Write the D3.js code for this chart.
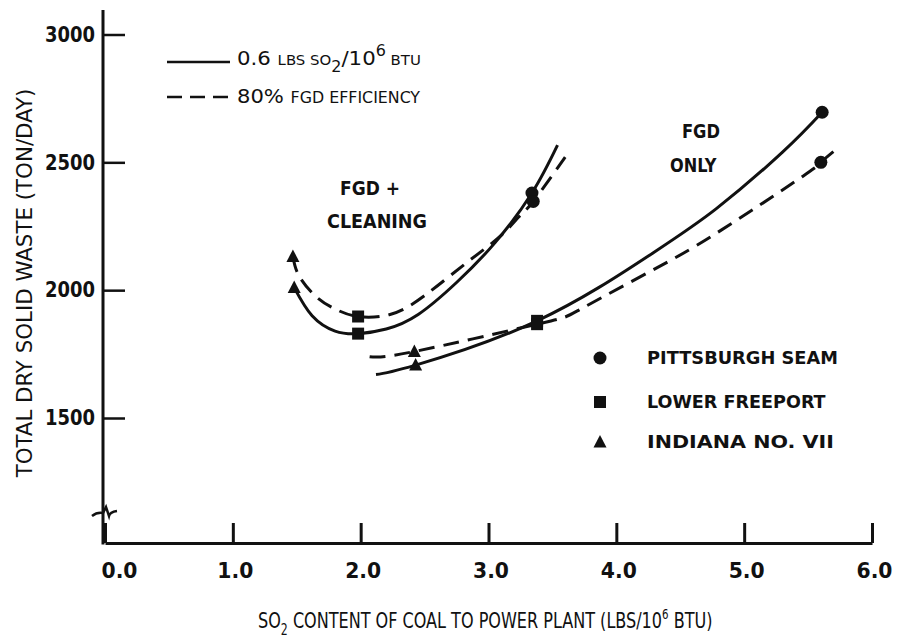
<!DOCTYPE html>
<html>
<head>
<meta charset="utf-8">
<script src="https://cdn.jsdelivr.net/npm/d3@7"></script>
<style>
  html, body { margin: 0; padding: 0; background: #fff; }
  svg { display: block; }
  text { font-family: "DejaVu Sans Condensed", "Liberation Sans Narrow", "DejaVu Sans", sans-serif; fill: #111; }
</style>
</head>
<body>
<svg id="chart" width="897" height="643"></svg>
<script>
// ---- data ----
const xTicks = [0, 1, 2, 3, 4, 5, 6];
const yTicks = [1500, 2000, 2500, 3000];

// FGD + coal cleaning curves  [SO2 lbs/10^6 BTU, ton/day]
const cleanSolid  = [[1.48, 2010], [1.62, 1900], [1.80, 1840], [1.98, 1830], [2.20, 1848], [2.45, 1905],
                     [2.75, 2030], [3.05, 2185], [3.34, 2380], [3.54, 2567]];
const cleanDashed = [[1.47, 2132], [1.52, 2054], [1.66, 1971], [1.81, 1924], [1.98, 1897], [2.23, 1905],
                     [2.49, 1975], [2.83, 2108], [3.09, 2210], [3.24, 2288], [3.35, 2347], [3.60, 2520]];
// FGD only curves
const onlySolid  = [[2.12, 1670], [2.43, 1707], [3.38, 1880], [4.26, 2137], [4.78, 2318], [5.30, 2540], [5.61, 2696]];
const onlyDashed = [[2.07, 1740], [2.42, 1760], [3.38, 1867], [3.71, 1923], [4.26, 2072], [4.78, 2222],
                    [5.46, 2446], [5.60, 2500], [5.72, 2551]];

// coal data points
const coalNames = ["PITTSBURGH SEAM", "LOWER FREEPORT", "INDIANA NO. VII"];
const pittsburghPts = [[3.34, 2380], [3.35, 2347], [5.61, 2696], [5.60, 2500]];
const freeportPts   = [[1.98, 1830], [1.98, 1897], [3.38, 1880], [3.38, 1867]];
const indianaPts    = [[1.48, 2010], [1.47, 2132], [2.43, 1707], [2.42, 1760]];

// ---- layout ----
const svg = d3.select("#chart");
const x = d3.scaleLinear().domain([0, 6]).range([105, 872]);
const y = d3.scaleLinear().domain([1500, 3000]).range([418, 34.5]);
const baseY = 543;
const axisX = 103;
const ink = "#111";

// squeeze a text element horizontally to a target width, keeping its anchor point
function fitWidth(t, width, ox, oy, rot) {
  const w = t.node().getBBox().width;
  const sx = width / w;
  t.attr("x", 0).attr("y", 0)
   .attr("transform", `translate(${ox},${oy})${rot ? ` rotate(${rot})` : ""} scale(${sx},1)`);
  return t;
}

// ---- x axis ----
const gx = svg.append("g").attr("transform", `translate(0,${baseY})`)
  .call(d3.axisBottom(x).tickValues(xTicks).tickFormat(d3.format(".1f"))
        .tickSizeInner(-20).tickSizeOuter(0).tickPadding(19));
gx.select(".domain").attr("stroke", ink).attr("stroke-width", 3);
gx.selectAll(".tick line").attr("stroke", ink).attr("stroke-width", 3);
gx.selectAll(".tick text").attr("font-size", 22).attr("font-family", null).attr("fill", ink)
  .attr("font-weight", "bold")
  .each(function (d, i) {
    const t = d3.select(this);
    const w = this.getBBox().width;
    const sx = 36 / w;
    const dx = i === 0 ? 14 : 2;
    t.attr("x", 0).attr("transform", `translate(${dx},0) scale(${sx},1)`);
  });

// ---- y axis ----
const gy = svg.append("g").attr("transform", `translate(${axisX},0)`)
  .call(d3.axisLeft(y).tickValues(yTicks).tickFormat(d3.format("d"))
        .tickSizeInner(-22).tickSizeOuter(0).tickPadding(8));
gy.select(".domain").remove();
gy.selectAll(".tick line").attr("stroke", ink).attr("stroke-width", 2.5);
gy.selectAll(".tick text").attr("font-size", 21).attr("font-family", null).attr("fill", ink)
  .attr("font-weight", "bold")
  .each(function () {
    const t = d3.select(this);
    const w = this.getBBox().width;
    const tx = +t.attr("x");
    t.attr("x", 0).attr("transform", `translate(${tx},0) scale(${50 / w},1)`);
  });

// axis line with a scale break near the bottom
svg.append("path")
  .attr("d", `M${axisX},10 V508 M${axisX},518 V${baseY + 1.5}`)
  .attr("stroke", ink).attr("stroke-width", 3).attr("fill", "none");
svg.append("path")
  .attr("d", `M92,516 Q97,512 ${axisX},513 L${axisX + 3},507 L${axisX + 6},516 Q110,512 117,511`)
  .attr("stroke", ink).attr("stroke-width", 2.5).attr("fill", "none");
svg.append("path")
  .attr("d", `M${axisX},508 L${axisX},518`)
  .attr("stroke", ink).attr("stroke-width", 3);

// ---- axis titles ----
const xt = svg.append("text").attr("font-size", 22);
xt.append("tspan").text("SO");
xt.append("tspan").attr("font-size", 15).attr("dy", 7).text("2");
xt.append("tspan").attr("dy", -7).text(" CONTENT OF COAL TO POWER PLANT (LBS/10");
xt.append("tspan").attr("font-size", 14).attr("dy", -9).text("6");
xt.append("tspan").attr("dy", 9).text(" BTU)");
fitWidth(xt, 455, 258, 628);

const yt = svg.append("text").attr("font-size", 20.5).attr("text-anchor", "middle")
  .text("TOTAL DRY SOLID WASTE (TON/DAY)");
fitWidth(yt, 390, 32, 283, -90);

// ---- curves ----
const line = d3.line().x(d => x(d[0])).y(d => y(d[1])).curve(d3.curveNatural);
const curves = [
  { pts: cleanSolid, dash: null },
  { pts: cleanDashed, dash: "16,9" },
  { pts: onlySolid, dash: null },
  { pts: onlyDashed, dash: "16,9" }
];
svg.append("g").selectAll("path").data(curves).join("path")
  .attr("d", d => line(d.pts))
  .attr("fill", "none").attr("stroke", ink).attr("stroke-width", 3)
  .attr("stroke-dasharray", d => d.dash);

// ---- markers ----
const triPath = "M0,-7 L6.5,5.5 L-6.5,5.5 Z";
const mk = svg.append("g").attr("fill", ink);
mk.selectAll("circle").data(pittsburghPts).join("circle")
  .attr("cx", d => x(d[0])).attr("cy", d => y(d[1])).attr("r", 6.5);
mk.selectAll("rect").data(freeportPts).join("rect")
  .attr("x", d => x(d[0]) - 6).attr("y", d => y(d[1]) - 6).attr("width", 12).attr("height", 12);
mk.selectAll("path").data(indianaPts).join("path")
  .attr("d", triPath).attr("transform", d => `translate(${x(d[0])},${y(d[1])})`);

// ---- line-style legend ----
svg.append("line").attr("x1", 167).attr("x2", 230).attr("y1", 62).attr("y2", 62)
  .attr("stroke", ink).attr("stroke-width", 2.5);
svg.append("line").attr("x1", 167).attr("x2", 233).attr("y1", 97).attr("y2", 97)
  .attr("stroke", ink).attr("stroke-width", 2.5).attr("stroke-dasharray", "15,8");

const l1 = svg.append("text").attr("font-size", 20);
l1.append("tspan").text("0.6 ");
l1.append("tspan").attr("font-size", 14).text("LBS SO");
l1.append("tspan").attr("font-size", 15).attr("dy", 7).text("2");
l1.append("tspan").attr("dy", -7).text("/10");
l1.append("tspan").attr("font-size", 15).attr("dy", -9).text("6");
l1.append("tspan").attr("font-size", 14).attr("dy", 9).text(" BTU");
fitWidth(l1, 184, 237, 65);

const l2 = svg.append("text").attr("font-size", 20);
l2.append("tspan").text("80% ");
l2.append("tspan").attr("font-size", 15).text("FGD EFFICIENCY");
fitWidth(l2, 184, 237, 103);

// ---- region annotations ----
const notes = [
  { s: "FGD +", x: 340, y: 195, w: 60 },
  { s: "CLEANING", x: 327, y: 228, w: 100 },
  { s: "FGD", x: 682, y: 138, w: 38 },
  { s: "ONLY", x: 670, y: 172, w: 47 }
];
notes.forEach(n => {
  const t = svg.append("text").attr("font-size", 19).attr("font-weight", "bold").text(n.s);
  fitWidth(t, n.w, n.x, n.y);
});

// ---- coal legend ----
const legY = [358, 402, 442];
const legG = svg.append("g").attr("fill", ink);
legG.append("circle").attr("cx", 600).attr("cy", legY[0]).attr("r", 6.5);
legG.append("rect").attr("x", 594).attr("y", legY[1] - 6).attr("width", 12).attr("height", 12);
legG.append("path").attr("d", triPath).attr("transform", `translate(600,${legY[2]})`);
const legW = [191, 179, 187];
coalNames.forEach((name, i) => {
  const t = svg.append("text").attr("font-size", 17.5).attr("font-weight", "bold").text(name);
  fitWidth(t, legW[i], 647, legY[i] + 6);
});
</script>
</body>
</html>
